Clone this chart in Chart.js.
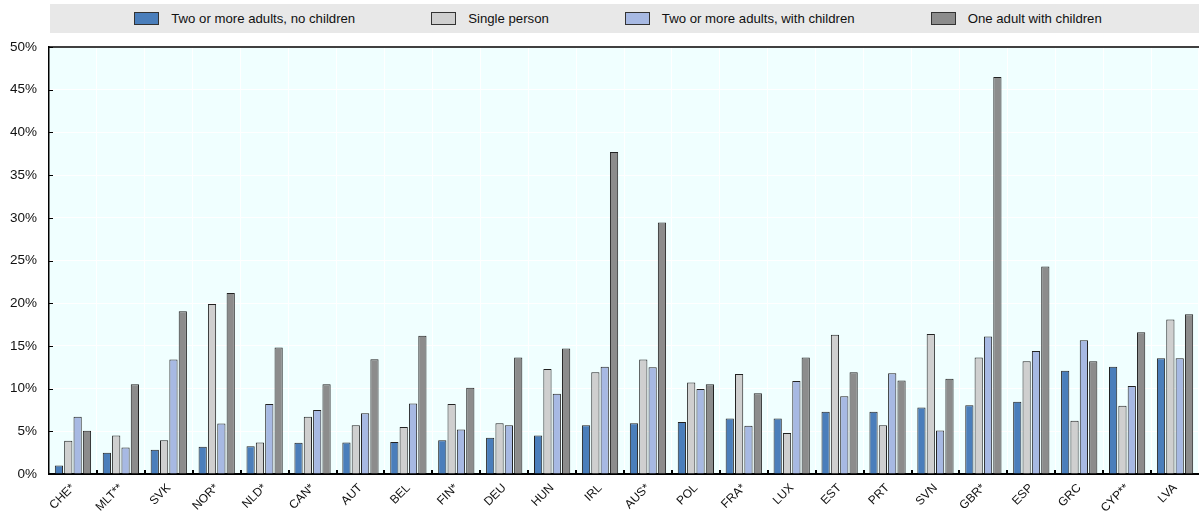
<!DOCTYPE html>
<html>
<head>
<meta charset="utf-8">
<script src="https://cdn.jsdelivr.net/npm/chart.js@4.4.1/dist/chart.umd.min.js"></script>
<style>
  html, body { margin: 0; padding: 0; background: #fff; }
  #wrap { position: relative; width: 1199px; height: 516px; }
  #legend {
    position: absolute; left: 50px; top: 4px; width: 1136px; height: 29px; padding-right: 13px;
    background: #e8e8e8; display: flex; align-items: center; justify-content: center;
    font-family: "Liberation Sans", Arial, sans-serif; font-size: 13.2px; color: #111;
  }
  .item { display: flex; align-items: center; margin: 0 38px; }
  .sw { width: 23px; height: 11px; border: 1px solid #333; margin-right: 12px; }
  canvas { position: absolute; left: 0; top: 0; }
</style>
</head>
<body>
<div id="wrap">
  <canvas id="c" width="1199" height="516"></canvas>
  <div id="legend"></div>
</div>
<script>
// Country codes along the x axis
const countries = ["CHE*", "MLT**", "SVK", "NOR*", "NLD*", "CAN*", "AUT", "BEL", "FIN*", "DEU", "HUN", "IRL",
  "AUS*", "POL", "FRA*", "LUX", "EST", "PRT", "SVN", "GBR*", "ESP", "GRC", "CYP**", "LVA"];

// Share of each household type, in percent
const twoAdultsNoChildren = [1.0, 2.5, 2.85, 3.2, 3.25, 3.65, 3.7, 3.75, 3.95, 4.25, 4.5, 5.7,
  5.95, 6.1, 6.5, 6.5, 7.3, 7.3, 7.8, 8.05, 8.45, 12.1, 12.55, 13.55];
const singlePerson = [3.9, 4.5, 3.95, 19.9, 3.7, 6.7, 5.7, 5.5, 8.2, 5.95, 12.3, 11.9,
  13.4, 10.7, 11.7, 4.8, 16.3, 5.7, 16.4, 13.65, 13.2, 6.25, 8.0, 18.1];
const twoAdultsWithChildren = [6.7, 3.1, 13.4, 5.9, 8.2, 7.5, 7.1, 8.25, 5.2, 5.7, 9.4, 12.55,
  12.5, 9.95, 5.65, 10.9, 9.1, 11.8, 5.1, 16.1, 14.4, 15.65, 10.3, 13.55];
const oneAdultWithChildren = [5.05, 10.5, 19.05, 21.2, 14.8, 10.5, 13.45, 16.2, 10.1, 13.65, 14.7, 37.7,
  29.45, 10.5, 9.45, 13.65, 11.9, 10.95, 11.15, 46.5, 24.3, 13.2, 16.6, 18.7];

const seriesNames = ["Two or more adults, no children", "Single person",
  "Two or more adults, with children", "One adult with children"];
const seriesColors = ["#4a7ebb", "#cfcfcf", "#a7b9e3", "#8c8c8c"];

// y axis: 0% to 50% in steps of 5
const yMin = 0, yMax = 50, yStep = 5;

// HTML legend
const legendEl = document.getElementById('legend');
seriesNames.forEach((n, i) => {
  const it = document.createElement('div');
  it.className = 'item';
  it.innerHTML = '<div class="sw" style="background:' + seriesColors[i] + '"></div><span>' + n + '</span>';
  legendEl.appendChild(it);
});

// Plot background, top frame line and inward tick marks
const frame = {
  id: 'frame',
  beforeDraw(chart) {
    const { ctx, chartArea: a } = chart;
    ctx.save();
    ctx.fillStyle = '#f0ffff';
    ctx.fillRect(a.left, a.top, a.right - a.left, a.bottom - a.top);
    ctx.restore();
  },
  afterDraw(chart) {
    const { ctx, chartArea: a, scales } = chart;
    ctx.save();
    ctx.strokeStyle = '#000';
    ctx.lineWidth = 1.5;
    ctx.beginPath();
    ctx.moveTo(a.left, a.top);
    ctx.lineTo(a.right, a.top);
    ctx.stroke();
    ctx.lineWidth = 1;
    scales.y.ticks.forEach(t => {
      const y = Math.round(scales.y.getPixelForValue(t.value)) + 0.5;
      ctx.beginPath();
      ctx.moveTo(a.left, y);
      ctx.lineTo(a.left + 4, y);
      ctx.stroke();
    });
    const n = chart.data.labels.length;
    ctx.lineWidth = 2;
    for (let i = 1; i < n; i++) {
      const x = Math.round((scales.x.getPixelForTick(i - 1) + scales.x.getPixelForTick(i)) / 2);
      ctx.beginPath();
      ctx.moveTo(x, a.bottom);
      ctx.lineTo(x, a.bottom - 4);
      ctx.stroke();
    }
    ctx.restore();
  }
};

const values = [twoAdultsNoChildren, singlePerson, twoAdultsWithChildren, oneAdultWithChildren];

new Chart(document.getElementById('c'), {
  type: 'bar',
  data: {
    labels: countries,
    datasets: values.map((d, i) => ({
      label: seriesNames[i],
      data: d,
      backgroundColor: seriesColors[i],
      borderColor: '#222',
      borderWidth: 1,
      categoryPercentage: 0.78,
      barPercentage: 0.88
    }))
  },
  options: {
    responsive: false,
    animation: false,
    layout: { padding: { top: 47, right: 0, left: 0, bottom: 0 } },
    plugins: { legend: { display: false }, tooltip: { enabled: false } },
    scales: {
      x: {
        grid: { color: '#ffffff', tickLength: 4 },
        border: { color: '#000', width: 2 },
        ticks: { maxRotation: 45, minRotation: 45, autoSkip: false, color: '#111' },
        afterFit(s) { s.height = 42; }
      },
      y: {
        min: yMin, max: yMax,
        grid: { color: '#ffffff', lineWidth: 1, drawTicks: false },
        border: { color: '#000', width: 1.5 },
        ticks: {
          stepSize: yStep, color: '#111', font: { size: 13.5 }, padding: 12,
          callback: v => v + '%'
        },
        afterFit(s) { s.width = 49; }
      }
    }
  },
  plugins: [frame]
});
</script>
</body>
</html>
